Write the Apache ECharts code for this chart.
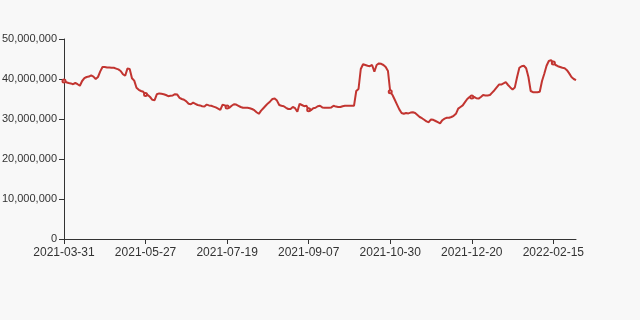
<!DOCTYPE html>
<html>
<head>
<meta charset="utf-8">
<script src="https://cdn.jsdelivr.net/npm/echarts@6/dist/echarts.min.js"></script>
<style>
html,body{margin:0;padding:0;background:#f8f8f8;}
#chart{width:640px;height:320px;}
</style>
</head>
<body>
<div id="chart"></div>
<script>
var dates = [
'2021-03-31',
'2021-04-01','2021-04-06','2021-04-07','2021-04-08','2021-04-09','2021-04-12','2021-04-13','2021-04-14','2021-04-15','2021-04-16',
'2021-04-19','2021-04-20','2021-04-21','2021-04-22','2021-04-23','2021-04-26','2021-04-27','2021-04-28','2021-04-29','2021-04-30',
'2021-05-06','2021-05-07','2021-05-10','2021-05-11','2021-05-12','2021-05-13','2021-05-14','2021-05-17','2021-05-18','2021-05-19',
'2021-05-20','2021-05-21','2021-05-24','2021-05-25','2021-05-26','2021-05-27',
'2021-05-28','2021-06-01','2021-06-02','2021-06-03','2021-06-04','2021-06-07','2021-06-08','2021-06-09','2021-06-10','2021-06-11',
'2021-06-14','2021-06-15','2021-06-16','2021-06-17','2021-06-18','2021-06-21','2021-06-22','2021-06-23','2021-06-24','2021-06-25',
'2021-06-28','2021-06-29','2021-06-30','2021-07-01','2021-07-02','2021-07-05','2021-07-06','2021-07-07','2021-07-08','2021-07-09',
'2021-07-12','2021-07-13','2021-07-14','2021-07-15','2021-07-16','2021-07-19',
'2021-07-20','2021-07-21','2021-07-22','2021-07-23','2021-07-26','2021-07-27','2021-07-28','2021-07-29','2021-07-30',
'2021-08-02','2021-08-03','2021-08-04','2021-08-05','2021-08-06','2021-08-09','2021-08-10','2021-08-11','2021-08-12','2021-08-13',
'2021-08-16','2021-08-17','2021-08-18','2021-08-19','2021-08-20','2021-08-23','2021-08-24','2021-08-25','2021-08-26','2021-08-27',
'2021-08-30','2021-08-31','2021-09-01','2021-09-02','2021-09-03','2021-09-06','2021-09-07',
'2021-09-08','2021-09-09','2021-09-10','2021-09-13','2021-09-14','2021-09-15','2021-09-16','2021-09-17','2021-09-20','2021-09-21',
'2021-09-22','2021-09-23','2021-09-24','2021-09-27','2021-09-28','2021-09-29','2021-09-30','2021-10-06','2021-10-07','2021-10-08',
'2021-10-11','2021-10-12','2021-10-13','2021-10-14','2021-10-15','2021-10-18','2021-10-19','2021-10-20','2021-10-21','2021-10-22',
'2021-10-25','2021-10-26','2021-10-27','2021-10-28','2021-10-29','2021-10-30',
'2021-11-01','2021-11-02','2021-11-03','2021-11-04','2021-11-05','2021-11-08','2021-11-09','2021-11-10','2021-11-11','2021-11-12',
'2021-11-15','2021-11-16','2021-11-17','2021-11-18','2021-11-19','2021-11-22','2021-11-23','2021-11-24','2021-11-25','2021-11-26',
'2021-11-29','2021-11-30','2021-12-01','2021-12-02','2021-12-03','2021-12-06','2021-12-07','2021-12-08','2021-12-09','2021-12-10',
'2021-12-13','2021-12-14','2021-12-15','2021-12-16','2021-12-17','2021-12-20',
'2021-12-21','2021-12-22','2021-12-23','2021-12-24','2021-12-27','2021-12-28','2021-12-29','2021-12-30','2021-12-31',
'2022-01-04','2022-01-05','2022-01-06','2022-01-07','2022-01-10','2022-01-11','2022-01-12','2022-01-13','2022-01-14',
'2022-01-17','2022-01-18','2022-01-19','2022-01-20','2022-01-21','2022-01-24','2022-01-25','2022-01-26','2022-01-27','2022-01-28',
'2022-02-04','2022-02-07','2022-02-08','2022-02-09','2022-02-10','2022-02-11','2022-02-14','2022-02-15',
'2022-02-16','2022-02-17','2022-02-18','2022-02-21','2022-02-22','2022-02-23','2022-02-24','2022-02-25','2022-02-28','2022-03-01'
];

// values in millions
var valuesM = [
39.5,39.2,39.0,38.9,38.7,39.0,38.7,38.3,39.5,40.2,
40.5,40.6,40.9,40.6,40.0,40.5,41.9,43.0,43.0,42.9,
42.9,42.8,42.8,42.6,42.4,42.0,41.2,40.8,42.6,42.5,
40.2,39.6,37.8,37.3,37.0,36.8,36.1,36.0,35.5,34.8,
34.7,36.2,36.4,36.3,36.2,36.0,35.7,35.8,35.9,36.2,
36.1,35.3,35.0,34.8,34.4,33.8,33.7,34.1,33.8,33.5,
33.4,33.2,33.1,33.6,33.4,33.3,33.1,32.9,32.6,32.3,
33.6,33.4,33.0,32.8,33.3,33.7,33.6,33.3,33.0,32.8,
32.8,32.8,32.7,32.5,32.2,31.7,31.3,32.1,32.7,33.3,
33.9,34.4,35.0,35.1,34.6,33.5,33.3,33.2,32.8,32.5,
32.5,33.0,32.7,31.8,33.8,33.5,33.2,33.3,32.3,32.2,
32.7,32.8,33.2,33.3,32.9,32.8,32.8,32.8,32.9,33.3,
33.1,33.0,33.0,33.2,33.3,33.3,33.3,33.3,33.3,37.0,
37.5,42.5,43.7,43.5,43.3,43.2,43.5,41.8,43.5,43.9,
43.8,43.5,43.0,42.0,36.8,36.0,34.8,33.6,32.4,31.5,
31.3,31.5,31.4,31.6,31.7,31.5,31.0,30.5,30.2,29.8,
29.4,29.2,29.9,29.8,29.5,29.2,28.9,29.7,30.1,30.3,
30.3,30.5,30.8,31.3,32.6,33.0,33.4,34.2,35.0,35.5,
35.5,35.5,35.2,35.1,35.5,36.0,35.9,35.9,36.0,36.6,
37.2,37.9,38.6,38.6,38.9,39.2,38.5,37.9,37.4,37.9,
40.5,42.8,43.2,43.3,42.7,40.5,37.0,36.7,36.7,36.7,
36.8,39.5,41.3,43.3,44.5,44.7,44.0,43.5,43.2,43.0,
42.8,42.7,42.2,41.4,40.5,40.0,39.7
];

var yTicks = [0, 10000000, 20000000, 30000000, 40000000, 50000000];

var values = valuesM.map(function (v) { return Math.round(v * 1000000); });

function fmt(n) {
  return String(n).replace(/\B(?=(\d{3})+(?!\d))/g, ',');
}

var chart = echarts.init(document.getElementById('chart'), null, {renderer: 'canvas'});
var fontFamily = 'Liberation Sans, Arial, sans-serif';
chart.setOption({
  backgroundColor: '#f8f8f8',
  animation: false,
  grid: {left: 64, right: 64, top: 39, bottom: 81, containLabel: false, outerBoundsMode: 'none'},
  xAxis: {
    type: 'category',
    boundaryGap: false,
    data: dates,
    axisLine: {show: true, lineStyle: {color: '#333'}},
    axisTick: {show: true, interval: 35, lineStyle: {color: '#333'}},
    axisLabel: {interval: 35, margin: 8, fontFamily: fontFamily, fontSize: 12, color: '#333'},
    splitLine: {show: false}
  },
  yAxis: {
    type: 'value',
    min: yTicks[0],
    max: yTicks[yTicks.length - 1],
    interval: yTicks[1] - yTicks[0],
    axisLine: {show: true, lineStyle: {color: '#333'}},
    axisTick: {show: true, lineStyle: {color: '#333'}},
    axisLabel: {formatter: function (v) { return fmt(v); }, margin: 7, fontFamily: fontFamily, fontSize: 11, color: '#333'},
    splitLine: {show: false}
  },
  series: [{
    type: 'line',
    data: values,
    symbol: 'emptyCircle',
    symbolSize: 3,
    showSymbol: true,
    itemStyle: {color: '#c23531', borderWidth: 1},
    lineStyle: {color: '#c23531', width: 2}
  }]
});
</script>
</body>
</html>
